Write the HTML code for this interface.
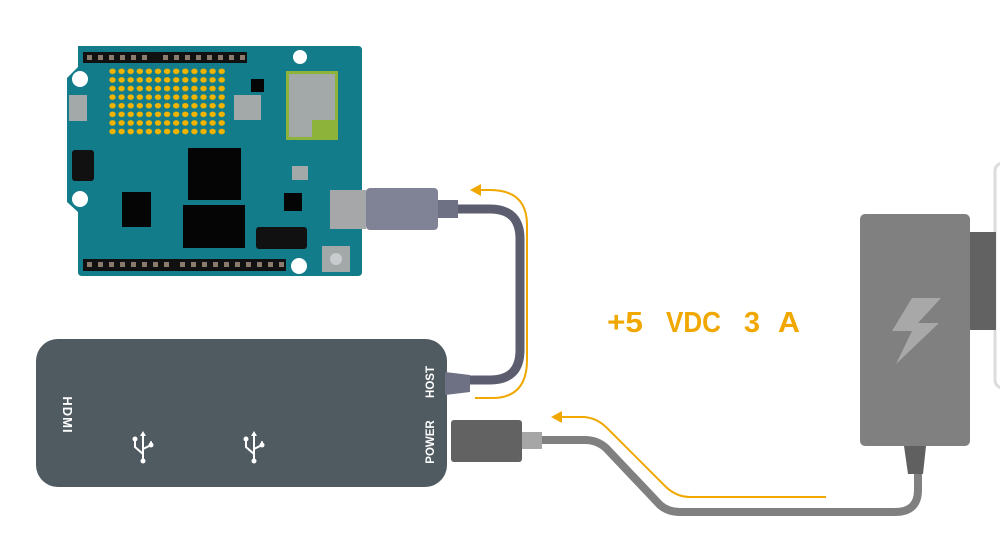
<!DOCTYPE html>
<html><head><meta charset="utf-8"><style>
html,body{margin:0;padding:0;background:#fff;width:1000px;height:555px;overflow:hidden}
svg{display:block}
</style></head><body>
<svg width="1000" height="555" viewBox="0 0 1000 555" xmlns="http://www.w3.org/2000/svg">
<rect x="995" y="163" width="20" height="225" rx="8" fill="#fff" stroke="#dcdcdc" stroke-width="3"/>
<path d="M438 209 H490 Q520 209 520 239 V350 Q520 380 490 380 H455" fill="none" stroke="#5c5e70" stroke-width="9"/>
<path d="M541 440 H585 Q597 440 606 448 L660 505 Q668 512 680 512 H895 Q918 512 918 490 V470" fill="none" stroke="#808080" stroke-width="8"/>
<path d="M475 398 H492 Q527 398 527 360 V225 Q527 190 490 190 H480" fill="none" stroke="#f0a800" stroke-width="2"/>
<polygon points="470,190 481,184 481,196" fill="#f0a800"/>
<path d="M826 497 H690 Q676 497 665 486 L607 428 Q596 417 582 417 H560" fill="none" stroke="#f0a800" stroke-width="2"/>
<polygon points="551,417 562,411 562,423" fill="#f0a800"/>
<path d="M78 46 H358 Q362 46 362 50 V272 Q362 276 358 276 H82 Q78 276 78 272 V212 L67 202 V78 L78 67 Z" fill="#127c8a"/>
<rect x="83" y="52" width="164" height="11" fill="#111"/>
<rect x="83" y="259" width="203" height="12" fill="#111"/>
<g fill="#8a7b6e">
<rect x="87" y="55" width="5" height="5"/><rect x="98" y="55" width="5" height="5"/><rect x="109" y="55" width="5" height="5"/><rect x="120" y="55" width="5" height="5"/><rect x="131" y="55" width="5" height="5"/><rect x="142" y="55" width="5" height="5"/>
<rect x="163" y="55" width="5" height="5"/><rect x="174" y="55" width="5" height="5"/><rect x="185" y="55" width="5" height="5"/><rect x="196" y="55" width="5" height="5"/><rect x="207" y="55" width="5" height="5"/><rect x="218" y="55" width="5" height="5"/><rect x="229" y="55" width="5" height="5"/><rect x="240" y="55" width="5" height="5"/>
<rect x="87" y="262" width="5" height="5"/><rect x="98" y="262" width="5" height="5"/><rect x="109" y="262" width="5" height="5"/><rect x="120" y="262" width="5" height="5"/><rect x="131" y="262" width="5" height="5"/><rect x="142" y="262" width="5" height="5"/><rect x="153" y="262" width="5" height="5"/><rect x="164" y="262" width="5" height="5"/>
<rect x="180" y="262" width="5" height="5"/><rect x="191" y="262" width="5" height="5"/><rect x="202" y="262" width="5" height="5"/><rect x="213" y="262" width="5" height="5"/><rect x="224" y="262" width="5" height="5"/><rect x="235" y="262" width="5" height="5"/><rect x="246" y="262" width="5" height="5"/><rect x="257" y="262" width="5" height="5"/><rect x="268" y="262" width="5" height="5"/><rect x="279" y="262" width="5" height="5"/>
</g>
<g fill="#fff"><circle cx="300" cy="57" r="7"/><circle cx="80" cy="79" r="8"/><circle cx="80" cy="199" r="8"/><circle cx="299" cy="266" r="8"/></g>
<defs><pattern id="led" x="108" y="67" width="9.1" height="8.6" patternUnits="userSpaceOnUse"><ellipse cx="4.5" cy="4.3" rx="3.2" ry="2.8" fill="#f2b400"/></pattern></defs>
<rect x="108" y="67" width="118.3" height="68.8" fill="url(#led)"/>
<rect x="286" y="71" width="52" height="69" fill="#8db33a"/>
<rect x="289" y="74" width="46" height="46" fill="#a3a8a8"/>
<rect x="289" y="120" width="23" height="17" fill="#a3a8a8"/>
<rect x="234" y="95" width="27" height="25" fill="#a3a8a8"/>
<rect x="69" y="95" width="18" height="26" fill="#a3a8a8"/>
<rect x="188" y="148" width="53" height="52" fill="#050505"/>
<rect x="183" y="205" width="62" height="43" fill="#050505"/>
<rect x="122" y="192" width="29" height="35" fill="#050505"/>
<rect x="284" y="193" width="18" height="18" fill="#050505"/>
<rect x="251" y="79" width="13" height="13" fill="#050505"/>
<rect x="72" y="150" width="22" height="31" rx="3" fill="#111"/>
<rect x="256" y="227" width="51" height="22" rx="3" fill="#111"/>
<rect x="292" y="166" width="16" height="14" fill="#a3a8a8"/>
<rect x="322" y="246" width="28" height="26" fill="#a3a8a8"/>
<circle cx="336" cy="259" r="6" fill="#c8ccce"/>
<rect x="330" y="190" width="36" height="39" fill="#a5a7a8"/>
<rect x="366" y="188" width="72" height="42" rx="4" fill="#808295"/>
<rect x="438" y="200" width="20" height="18" fill="#6e7083"/>
<rect x="36" y="339" width="411" height="148" rx="22" fill="#4f5a61"/>
<path d="M445 372 L470 375 V392 L445 395 Z" fill="#6e7083"/>
<rect x="451" y="420" width="71" height="42" rx="3" fill="#626262"/>
<rect x="522" y="432" width="20" height="17" fill="#a6a6a6"/>
<g fill="#fff" font-family="Liberation Sans, sans-serif" font-weight="bold" font-size="11.5">
<text transform="translate(434,382) rotate(-90)" text-anchor="middle">HOST</text>
<text transform="translate(434,442) rotate(-90)" text-anchor="middle">POWER</text>
<text transform="translate(63,415) rotate(90)" text-anchor="middle" font-size="13" letter-spacing="1">HDMI</text>
</g>
<g stroke="#fff" stroke-width="2" fill="none" stroke-linecap="round">
<path d="M143 434 V460 M143 454 L135 447 V440 M143 449 L151 445 V442"/>
<path d="M254 434 V460 M254 454 L246 447 V440 M254 449 L262 445 V442"/>
</g>
<g fill="#fff"><circle cx="143" cy="461" r="2.5"/><circle cx="135" cy="439" r="2.5"/><circle cx="151" cy="445" r="2.5"/><polygon points="143,431 140,436 146,436"/>
<circle cx="254" cy="461" r="2.5"/><circle cx="246" cy="439" r="2.5"/><circle cx="262" cy="445" r="2.5"/><polygon points="254,431 251,436 257,436"/></g>
<rect x="970" y="232" width="26" height="98" fill="#626262"/>
<rect x="860" y="214" width="110" height="232" rx="5" fill="#808080"/>
<path d="M904 446 H926 L923 474 H908 Z" fill="#606060"/>
<polygon points="912,298 941,298 918,323 939,323 896,364 912,331 892,331" fill="#a8a8a8"/>
<g font-family="Liberation Sans, sans-serif" font-weight="bold" font-size="29" fill="#f0a800">
<text x="607" y="332" textLength="36" lengthAdjust="spacingAndGlyphs">+5</text>
<text x="666" y="332" textLength="55" lengthAdjust="spacingAndGlyphs">VDC</text>
<text x="744" y="332" textLength="16" lengthAdjust="spacingAndGlyphs">3</text>
<text x="778" y="332" textLength="22" lengthAdjust="spacingAndGlyphs">A</text>
</g>
</svg>
</body></html>
